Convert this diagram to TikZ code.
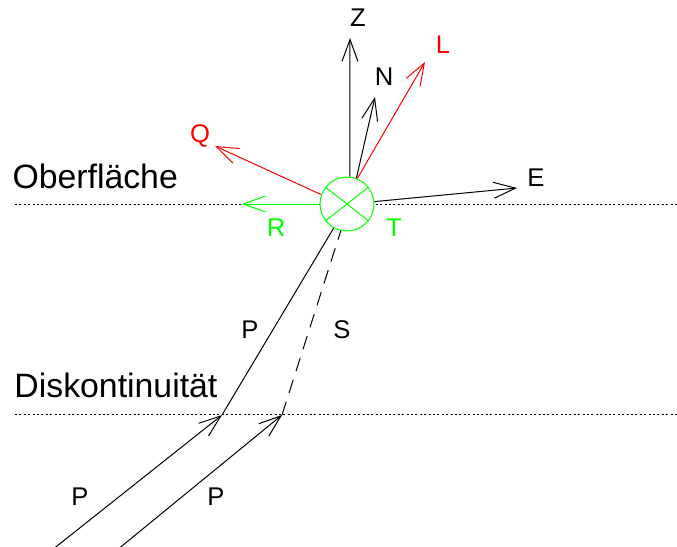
\documentclass[tikz,border=0pt]{standalone}
\usepackage{fontspec}
\setmainfont{Liberation Sans}
\usetikzlibrary{arrows.meta, positioning, calc}

\begin{document}
\begin{tikzpicture}[
    x=0.5pt,y=-0.5pt,
    line width=0.5pt,
    ray/.style={-{Straight Barb[length=11pt,width=8pt]}},
    level/.style={dash pattern=on 1pt off 1.2pt, line width=0.5pt},
    lbl/.style={inner sep=0pt, font=\fontsize{12.8}{15}\selectfont},
    big/.style={inner sep=0pt, anchor=base west, font=\fontsize{16.9}{19}\selectfont},
    sensor/.style={draw=green, circle, minimum size=27pt, inner sep=0pt}
]
    \useasboundingbox (0,0) rectangle (677,547);

    % --- Levels ---
    \coordinate (surfL) at (15,204);
    \coordinate (surfR) at (677,204);
    \coordinate (discL) at (15,414);
    \coordinate (discR) at (677,414);
    \draw[level] (surfL) -- (surfR);
    \draw[level] (discL) -- (discR);
    \node[big] (surf) at (12,188) {Oberfläche};
    \node[big] (disc) at (14,397) {Diskontinuität};

    % --- Station ---
    \node[sensor, fill=white] (ctr) at (347,204) {};
    \draw[green] (ctr.142) -- (ctr.-38);
    \draw[green] (ctr.38) -- (ctr.218);

    % --- Tips ---
    \coordinate (ztip) at (350,38);
    \coordinate (ntip) at (375,97);
    \coordinate (ltip) at (425,62);
    \coordinate (qtip) at (215,146);
    \coordinate (etip) at (517,188);
    \coordinate (rtip) at (242,204);
    \coordinate (d1) at (222,415);
    \coordinate (d2) at (282,415);
    \coordinate (in1) at (52,550);
    \coordinate (in2) at (117,550);

    % --- Vectors ---
    \draw[ray] (ctr.84) -- (ztip);
    \draw[ray] (ctr.70) -- (ntip);
    \draw[ray, red] (ctr.68) -- (ltip);
    \draw[ray, red] (ctr.160) -- (qtip);
    \draw[ray] (ctr.5) -- (etip);
    \draw[ray, green] (ctr.west) -- (rtip);

    % --- Rays ---
    \draw[ray] (in1) -- (d1);
    \draw[ray] (in2) -- (d2);
    \draw (d1) -- (ctr.-119);
    \draw[dash pattern=on 7pt off 4.5pt] (d2) -- (ctr.-103);

    % --- Labels ---
    \node[lbl] (zl) at (358,18) {Z};
    \node[lbl] (nl) at (384,77) {N};
    \node[lbl, red] (ll) at (443,45) {L};
    \node[lbl, red] (ql) at (200,136) {Q};
    \node[lbl] (el) at (536,178) {E};
    \node[lbl, green] (rl) at (276,228) {R};
    \node[lbl, green] (tl) at (394,228) {T};
    \node[lbl] (pa) at (250,330) {P};
    \node[lbl] (sl) at (342,330) {S};
    \node[lbl] (pb) at (80,497) {P};
    \node[lbl] (pc) at (216,497) {P};

\end{tikzpicture}
\end{document}
